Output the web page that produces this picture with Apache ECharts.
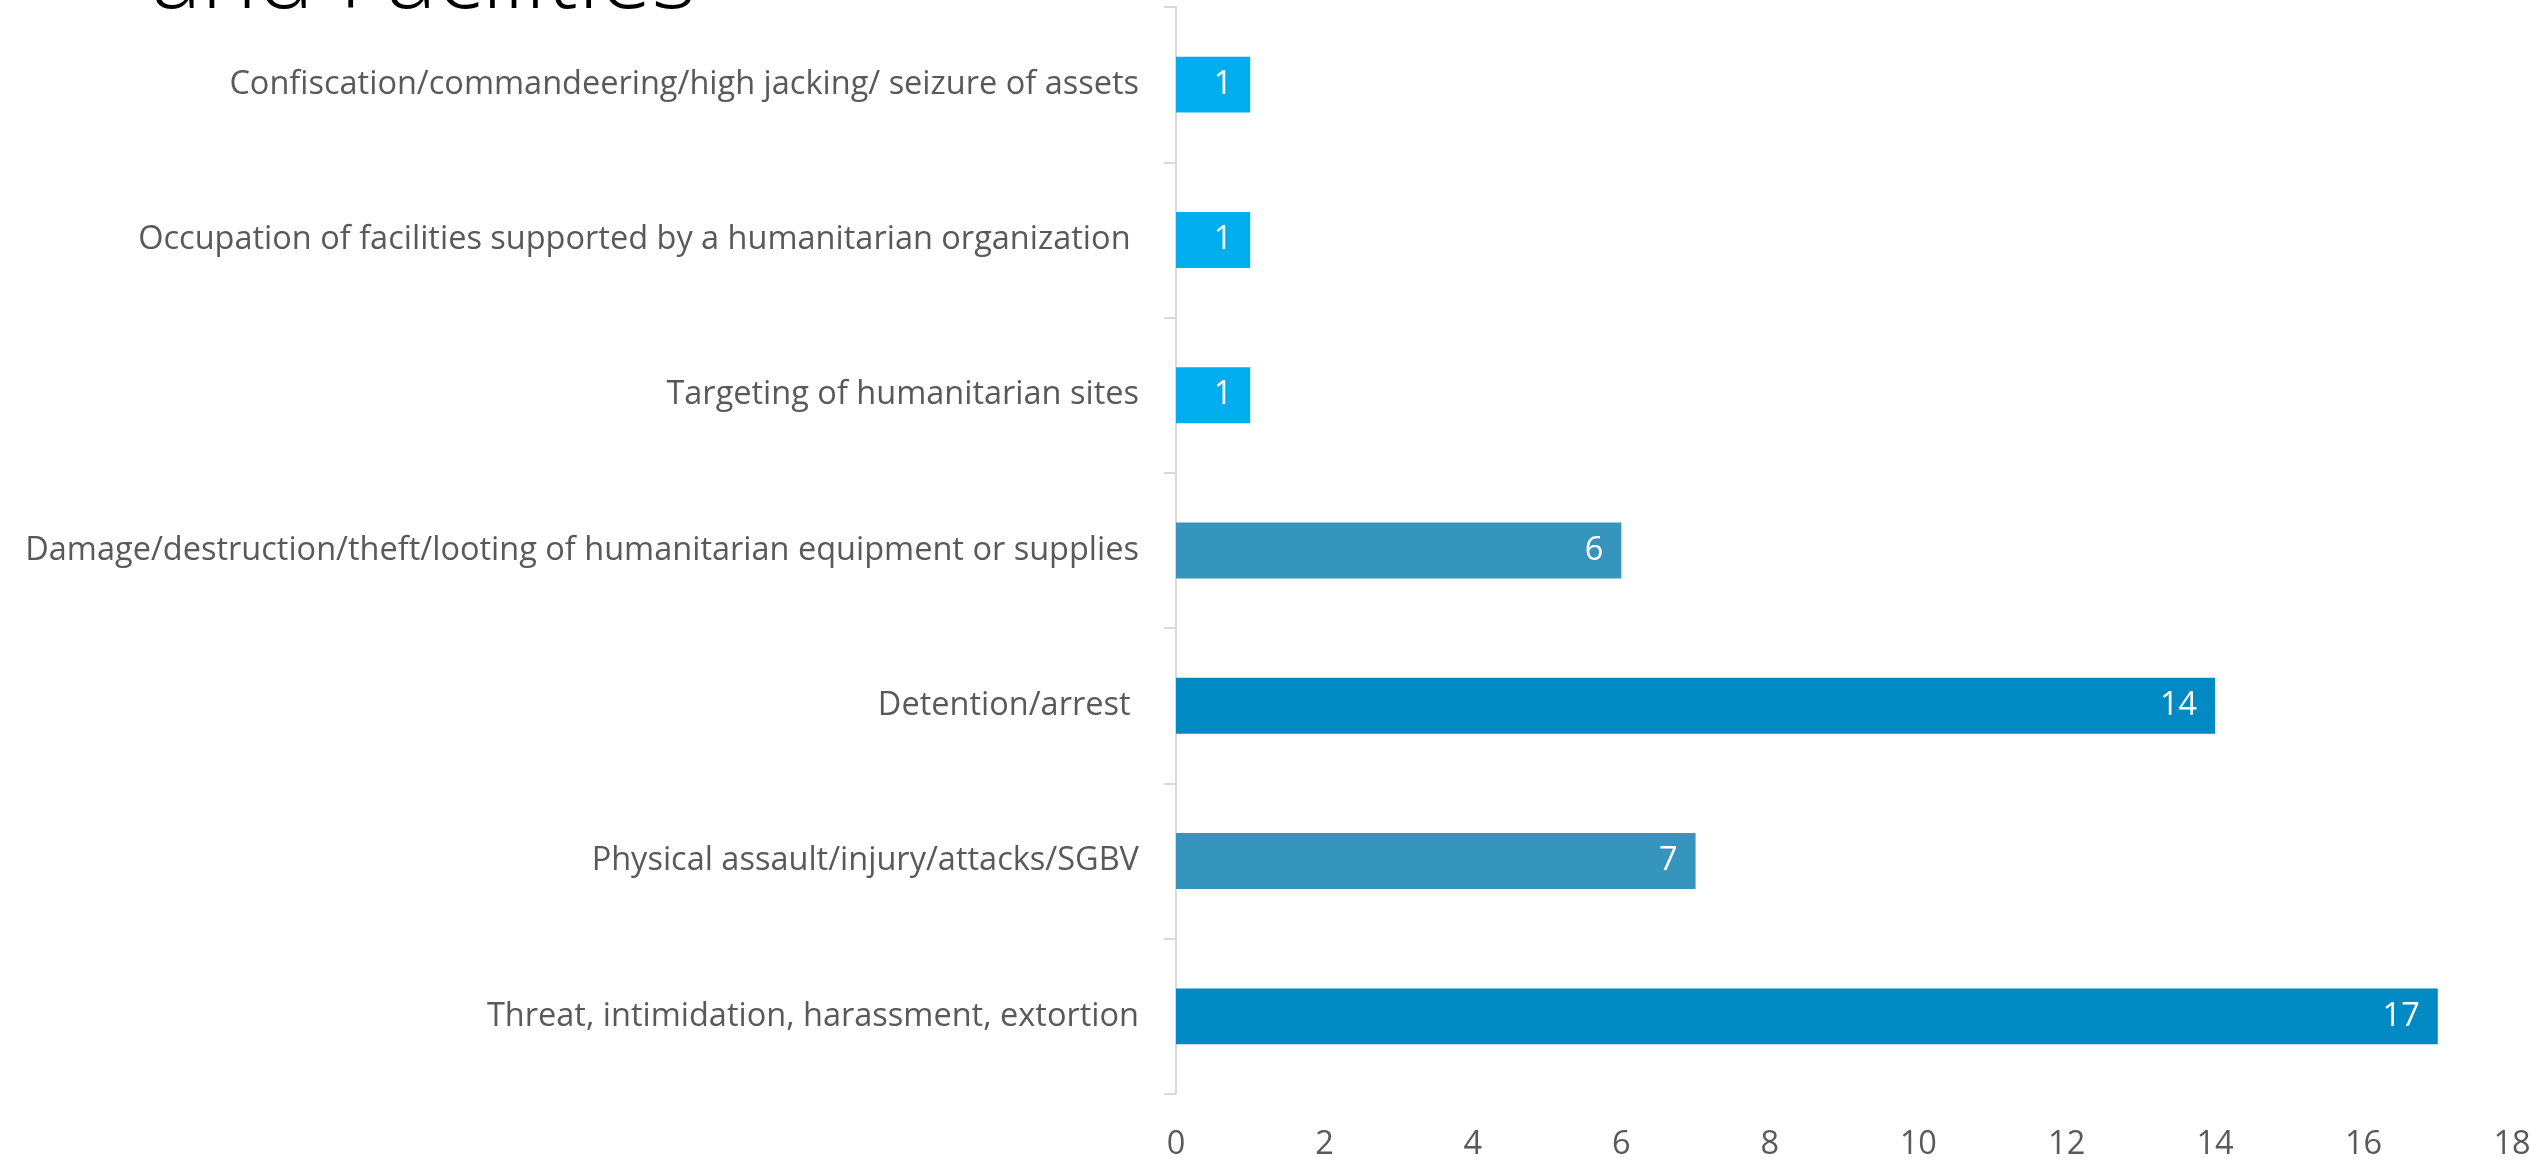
<!DOCTYPE html>
<html>
<head>
<meta charset="utf-8">
<script src="https://cdn.jsdelivr.net/npm/echarts@6/dist/echarts.min.js"></script>
<style>
  html, body { margin: 0; padding: 0; background: #fff; }
  #incidents { width: 2542px; height: 1161px; }
</style>
</head>
<body>
<div id="incidents"></div>
<script>
// categories, bottom to top as drawn
var categorias = [
  'Threat, intimidation, harassment, extortion',
  'Physical assault/injury/attacks/SGBV',
  'Detention/arrest ',
  'Damage/destruction/theft/looting of humanitarian equipment or supplies',
  'Targeting of humanitarian sites',
  'Occupation of facilities supported by a humanitarian organization ',
  'Confiscation/commandeering/high jacking/ seizure of assets'
];
var valores = [17, 7, 14, 6, 1, 1, 1];
var coresBarras = ['#0089c2', '#3595bc', '#0089c2', '#3595bc', '#00adef', '#00adef', '#00adef'];
var ticksX = [0, 2, 4, 6, 8, 10, 12, 14, 16, 18];

var grafico = echarts.init(document.getElementById('incidents'));

var fonte = '"Open Sans", sans-serif';

option = {
  animation: false,
  title: {
    text: 'and Facilities',
    left: 146,
    top: -72,
    textStyle: {
      color: '#000',
      fontFamily: fonte,
      fontWeight: 300,
      fontSize: 95
    }
  },
  grid: {
    left: 1176,
    right: 30,
    top: 7,
    bottom: 64,
    containLabel: false
  },
  xAxis: {
    type: 'value',
    min: ticksX[0],
    max: ticksX[ticksX.length - 1],
    interval: 2,
    axisLine: { show: false },
    axisTick: { show: false },
    splitLine: { show: false },
    axisLabel: {
      color: '#595959',
      fontFamily: fonte,
      fontSize: 32.5,
      margin: 34
    }
  },
  yAxis: {
    type: 'category',
    data: categorias,
    axisLine: { show: true, lineStyle: { color: '#d9d9d9', width: 2 } },
    axisTick: { show: true, length: 12, lineStyle: { color: '#d9d9d9', width: 2 } },
    axisLabel: {
      color: '#595959',
      fontFamily: fonte,
      fontSize: 32.5,
      margin: 37
    }
  },
  series: [{
    type: 'bar',
    barCategoryGap: '64%',
    data: valores.map(function (v, i) {
      return { value: v, itemStyle: { color: coresBarras[i] } };
    }),
    label: {
      show: true,
      position: 'insideRight',
      distance: 18,
      color: '#fff',
      fontFamily: fonte,
      fontSize: 32.5
    }
  }]
};
grafico.setOption(option);
</script>
</body>
</html>
